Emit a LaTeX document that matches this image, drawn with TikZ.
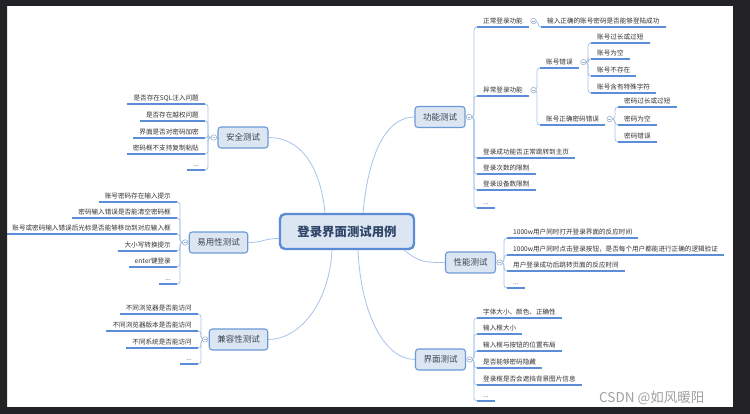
\documentclass[tikz,border=0pt]{standalone}
\usepackage{fontspec}
\setmainfont{Noto Sans CJK SC}
\usetikzlibrary{calc}
\definecolor{framecol}{HTML}{232326}
\definecolor{nodefill}{HTML}{DCE6F3}
\definecolor{nodeborder}{HTML}{6C9AD6}
\definecolor{rootborder}{HTML}{5A8DD6}
\definecolor{roottext}{HTML}{2F4668}
\definecolor{maintext}{HTML}{3A4250}
\definecolor{leaftext}{HTML}{333333}
\definecolor{ulinecol}{HTML}{5B8ED6}
\definecolor{spinecol}{HTML}{A6C3EA}
\definecolor{knobcol}{HTML}{9DB2CC}
\definecolor{markcol}{HTML}{A0A0A0}
\newcommand\rleaf[4]{%
  \node[leafR] (#1) at #3 {#4};
  \draw[spine] (#2) -| ([xshift=-3pt]#1.south west) -- ([xshift=4pt]#1.south west);
  \draw[uline] (#1.south west) -- (#1.south east);
}
\newcommand\lleaf[4]{%
  \node[leafL] (#1) at #3 {#4};
  \draw[spine] (#2) -| ([xshift=3pt]#1.south east) -- ([xshift=-4pt]#1.south east);
  \draw[uline] (#1.south east) -- (#1.south west);
}
\begin{document}
\begin{tikzpicture}[x=1pt,y=-1pt,
  rootnode/.style={draw=rootborder, fill=nodefill, line width=2.4pt, rounded corners=5pt,
    minimum width=134pt, minimum height=35pt, inner sep=0pt,
    font=\fontsize{12.4}{14}\selectfont\bfseries, text=roottext},
  mainnode/.style={draw=nodeborder, fill=nodefill, line width=1.1pt, rounded corners=3pt,
    minimum height=21pt, inner xsep=8pt, inner ysep=0pt,
    font=\fontsize{8.5}{10}\selectfont, text=maintext},
  leafR/.style={anchor=south west, inner xsep=6pt, inner ysep=1.5pt, text height=5pt,
    text depth=1.5pt, font=\fontsize{6.6}{8}\selectfont, text=leaftext},
  leafL/.style={leafR, anchor=south east},
  uline/.style={draw=ulinecol, line width=1.3pt},
  spine/.style={draw=spinecol, line width=0.8pt, rounded corners=3pt},
  link/.style={draw=spinecol, line width=0.8pt},
  knob/.style={circle, draw=knobcol, fill=white, line width=0.6pt, minimum size=5.5pt,
    inner sep=0pt, path picture={\draw[knobcol, line width=0.5pt]
      ([xshift=-1.4pt]path picture bounding box.center) -- ([xshift=1.4pt]path picture bounding box.center);}},
]
\useasboundingbox (0,0) rectangle (750,414);
\fill[white] (0,0) rectangle (750,414);

% main nodes
\node[rootnode] (root) at (347,231.5) {登录界面测试用例};
\node[mainnode] (G) at (440,117) {功能测试};
\node[mainnode] (X) at (470.5,262.5) {性能测试};
\node[mainnode] (J) at (440.5,359.5) {界面测试};
\node[mainnode] (A) at (243,137.5) {安全测试};
\node[mainnode] (Y) at (218.5,242.5) {易用性测试};
\node[mainnode] (K) at (238.5,339.5) {兼容性测试};

% root links
\draw[link] ([xshift=16pt]root.north) .. controls +(5,-55) and +(-30,0) .. (G.west);
\draw[link] ([xshift=-22pt]root.north) .. controls +(-5,-50) and +(30,0) .. (A.east);
\draw[link] ([yshift=-7pt]root.west) .. controls +(-15,0) and +(15,0) .. (Y.east);
\draw[link] ([xshift=-15pt]root.south) .. controls +(-3,55) and +(30,0) .. (K.east);
\draw[link] ([xshift=11pt]root.south) .. controls +(3,65) and +(-30,0) .. (J.west);
\draw[link] ([xshift=-11pt]root.south east) .. controls +(15,12) and +(-20,0) .. (X.west);

% knob points
\coordinate (kG) at ([xshift=3.5pt]G.east);
\coordinate (kX) at ([xshift=3.5pt]X.east);
\coordinate (kJ) at ([xshift=3.5pt]J.east);
\coordinate (kA) at ([xshift=-3.5pt]A.west);
\coordinate (kY) at ([xshift=-3.5pt]Y.west);
\coordinate (kK) at ([xshift=-3.5pt]K.west);

% 功能测试
\rleaf{g1}{kG}{(477,27)}{正常登录功能}
\coordinate (kg1) at ([xshift=4.5pt,yshift=1pt]g1.east);
\rleaf{g11}{kg1}{(541,27)}{输入正确的账号密码是否能够登陆成功}
\rleaf{g2}{kG}{(477,96)}{异常登录功能}
\coordinate (kg2) at ([xshift=4.5pt,yshift=1pt]g2.east);
\rleaf{g21}{kg2}{(540,68)}{账号错误}
\coordinate (kg21) at ([xshift=4.5pt,yshift=1pt]g21.east);
\rleaf{g211}{kg21}{(591,43)}{账号过长或过短}
\rleaf{g212}{kg21}{(591,59)}{账号为空}
\rleaf{g213}{kg21}{(591,76)}{账号不存在}
\rleaf{g214}{kg21}{(591,93)}{账号含有特殊字符}
\rleaf{g22}{kg2}{(540,125)}{账号正确密码错误}
\coordinate (kg22) at ([xshift=4.5pt,yshift=1pt]g22.east);
\rleaf{g221}{kg22}{(618,107)}{密码过长或过短}
\rleaf{g222}{kg22}{(618,125)}{密码为空}
\rleaf{g223}{kg22}{(618,142)}{密码错误}
\rleaf{g3}{kG}{(477,158)}{登录成功能否正常跳转到主页}
\rleaf{g4}{kG}{(477,174)}{登录次数的限制}
\rleaf{g5}{kG}{(477,190)}{登录设备数限制}
\rleaf{g6}{kG}{(477,208)}{...}

% 性能测试
\rleaf{x1}{kX}{(507,238)}{1000w用户同时打开登录界面的反应时间}
\rleaf{x2}{kX}{(507,255)}{1000w用户同时点击登录按钮，是否每个用户都能进行正确的逻辑验证}
\rleaf{x3}{kX}{(507,271)}{用户登录成功后跳转页面的反应时间}
\rleaf{x4}{kX}{(507,288)}{...}

% 界面测试
\rleaf{j1}{kJ}{(477,318)}{字体大小、颜色、正确性}
\rleaf{j2}{kJ}{(477,334)}{输入框大小}
\rleaf{j3}{kJ}{(477,351)}{输入框与按钮的位置布局}
\rleaf{j4}{kJ}{(477,368)}{是否能够密码隐藏}
\rleaf{j5}{kJ}{(477,385)}{登录框是否会遮挡背景图片信息}
\rleaf{j6}{kJ}{(477,401)}{...}

% 安全测试
\lleaf{a1}{kA}{(205,104)}{是否存在SQL注入问题}
\lleaf{a2}{kA}{(205,121)}{是否存在越权问题}
\lleaf{a3}{kA}{(205,138)}{界面是否对密码加密}
\lleaf{a4}{kA}{(205,154)}{密码框不支持复制粘贴}
\lleaf{a5}{kA}{(205,170)}{...}

% 易用性测试
\lleaf{y1}{kY}{(177,202)}{账号密码存在输入提示}
\lleaf{y2}{kY}{(177,218)}{密码输入错误是否能清空密码框}
\lleaf{y3}{kY}{(177,234)}{账号或密码输入错误后光标是否能够移动到对应输入框}
\lleaf{y4}{kY}{(177,251)}{大小写转换提示}
\lleaf{y5}{kY}{(177,267)}{enter键登录}
\lleaf{y6}{kY}{(177,284)}{...}

% 兼容性测试
\lleaf{k1}{kK}{(198,314)}{不同浏览器是否能访问}
\lleaf{k2}{kK}{(198,331)}{不同浏览器版本是否能访问}
\lleaf{k3}{kK}{(198,348)}{不同系统是否能访问}
\lleaf{k4}{kK}{(198,364)}{...}

% knobs
\foreach \k in {kG,kX,kJ,kA,kY,kK,kg1,kg2,kg21,kg22}
  \node[knob] at (\k) {};

% watermark
\node[anchor=base west, text=markcol, font=\fontsize{13.5}{15}\selectfont, inner sep=0pt]
  (wm) at (599,402) {CSDN @如风暖阳};

% dark frame
\fill[framecol, even odd rule] (0,0) rectangle (750,414) (7,6) rectangle (733,407);
\end{tikzpicture}
\end{document}
